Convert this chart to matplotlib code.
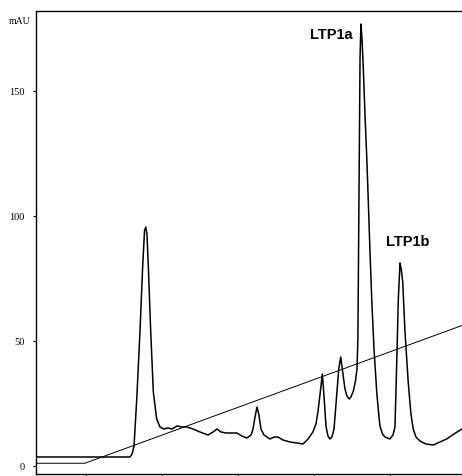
import matplotlib
matplotlib.use("Agg")
import matplotlib.pyplot as plt

# chromatogram trace (time in min, absorbance in mAU)
time_min = [1.71, 7.89, 8.03, 8.16, 8.34, 8.55, 8.73, 8.85, 8.93, 9.01, 9.10,
            9.26, 9.43, 9.65, 9.87, 10.13, 10.39, 10.66, 10.99, 11.32, 11.64,
            12.04, 12.50, 13.03, 13.36, 13.62, 13.88, 14.21, 14.61, 14.93,
            15.26, 15.59, 15.86, 15.99, 16.12, 16.25, 16.38, 16.51, 16.71,
            17.11, 17.37, 17.63, 17.96, 18.42, 18.88, 19.28, 19.61, 19.93,
            20.13, 20.26, 20.44, 20.55, 20.66, 20.79, 20.92, 21.05, 21.18,
            21.32, 21.49, 21.63, 21.76, 21.89, 22.04, 22.17, 22.32, 22.43,
            22.59, 22.73, 22.83, 22.89, 22.96, 23.03, 23.09, 23.16, 23.24,
            23.36, 23.47, 23.57, 23.68, 23.80, 23.95, 24.13, 24.23, 24.34,
            24.51, 24.67, 25.00, 25.20, 25.33, 25.44, 25.55, 25.66, 25.74,
            25.84, 25.99, 26.20, 26.38, 26.53, 26.71, 26.97, 27.37, 27.85,
            28.29, 28.73, 29.21, 29.74]
absorb_mau = [3.4, 3.4, 4.6, 7.8, 26.6, 53.4, 79.8, 93.8, 95.4, 92.6, 79.8,
              53.4, 29.4, 18.6, 15.4, 14.6, 15.0, 14.6, 15.8, 15.4, 15.4,
              14.6, 13.4, 12.2, 13.4, 14.6, 13.4, 13.0, 13.0, 13.0,
              11.8, 11.0, 12.2, 14.6, 19.4, 23.4, 20.2, 14.6, 12.2,
              10.6, 11.4, 11.4, 10.2, 9.4, 9.0, 8.6, 10.6, 13.4,
              16.6, 21.4, 30.6, 36.6, 27.8, 15.8, 11.8, 10.6, 11.4,
              14.6, 27.8, 38.6, 43.4, 37.4, 30.6, 27.8, 26.6, 27.4,
              29.8, 33.8, 38.6, 50.6, 106.6, 162.6, 176.6, 170.6, 159.8,
              139.8, 123.8, 106.6, 86.6, 66.6, 46.6, 29.4, 22.6, 15.8,
              12.6, 11.4, 10.6, 12.2, 15.4, 39.8, 66.6, 81.0, 78.6,
              73.4, 53.4, 33.4, 20.6, 14.6, 11.4, 9.8, 8.6, 8.2,
              9.4, 10.6, 12.6, 14.6]

# solvent gradient line
grad_time = [1.71, 4.93, 29.74]
grad_level = [0.9, 0.9, 56.0]

peak_names = ["LTP1a", "LTP1b"]
peak_label_x = [21.16, 26.16]
peak_label_y = [172.6, 89.6]

yticks = [0, 50, 100, 150]
xticks = [5, 10, 15, 20, 25]

fig = plt.figure(figsize=(4.62, 4.77), dpi=100)
ax = fig.add_axes([36 / 462, 2 / 477, 426 / 462, 463 / 477])

ax.plot(time_min, absorb_mau, color="black", lw=1.1)
ax.plot(grad_time, grad_level, color="black", lw=0.7)

for name, x, y in zip(peak_names, peak_label_x, peak_label_y):
    ax.text(x, y, name, ha="center", va="center", fontsize=10.5,
            fontweight="bold", family="Liberation Sans")

ax.set_xlim(1.71, 29.74)
ax.set_ylim(-3.4, 181.8)
ax.set_yticks(yticks)
ax.set_yticklabels([str(v) for v in yticks], family="Liberation Serif",
                   fontsize=7.5)
ax.set_xticks(xticks)
ax.set_xticklabels([])
ax.tick_params(axis="both", direction="out", length=2, width=0.8, pad=6)
ax.text(-0.012, 177.8, "mAU", transform=ax.get_yaxis_transform(),
        ha="right", va="center", family="Liberation Serif", fontsize=7)

ax.spines["right"].set_visible(False)
for s in ["left", "top", "bottom"]:
    ax.spines[s].set_linewidth(1.0)

fig.savefig("out.png", dpi=100)
